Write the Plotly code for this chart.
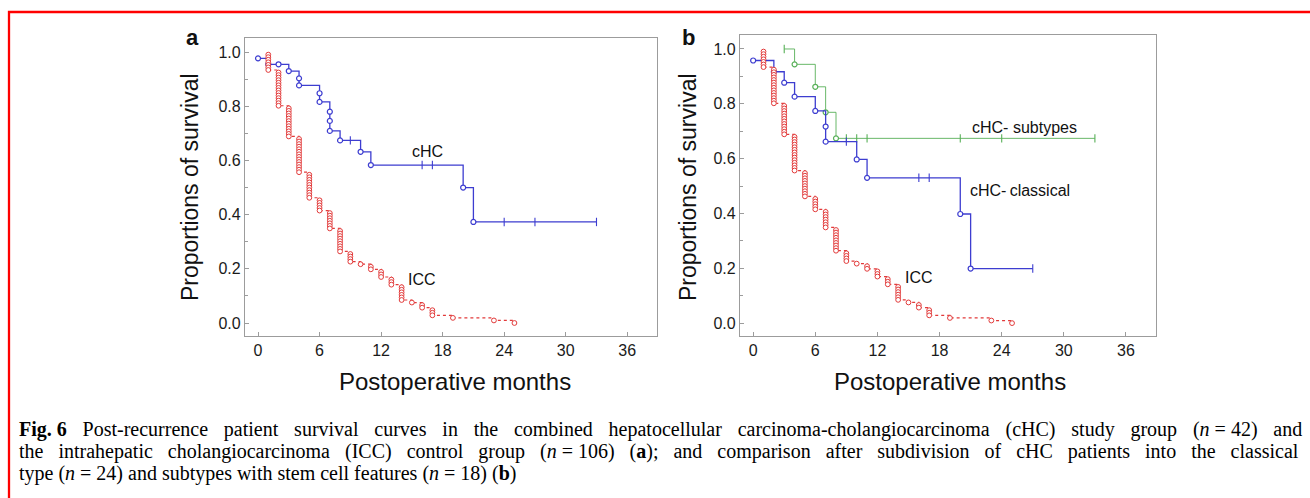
import numpy as np
import plotly.graph_objects as go

# ---------------- data ----------------
month_ticks = [0, 6, 12, 18, 24, 30, 36]
surv_ticks = [0.0, 0.2, 0.4, 0.6, 0.8, 1.0]

# Panel a - cHC (n = 42): event times / survival after each event
chc_a_t = [0, 1, 2, 3, 4, 4, 6, 6, 7, 7, 7, 8, 10, 11, 20, 21]
chc_a_s = [0.977, 0.955, 0.955, 0.930, 0.903, 0.877, 0.848, 0.816, 0.780,
           0.746, 0.709, 0.674, 0.632, 0.583, 0.500, 0.373]
chc_a_cens = [9, 16, 17, 24, 27, 33]

# ICC control group (n = 106): death counts per month (same curve in both panels)
icc_n = 106
icc_t = [1, 2, 3, 4, 5, 6, 7, 8, 9, 10, 11, 12, 13, 14, 15, 16, 17, 19, 23, 25]
icc_d = [7, 14, 12, 14, 10, 5, 7, 9, 4, 1, 2, 3, 3, 6, 1, 2, 3, 1, 1, 1]

# Panel b - cHC classical (n = 24)
cls_t = [0, 2, 3, 4, 6, 7, 7, 10, 11, 20, 21]
cls_s = [0.958, 0.917, 0.877, 0.826, 0.774, 0.717, 0.662, 0.597, 0.530, 0.398, 0.199]
cls_cens = [9, 16, 17, 27]

# Panel b - cHC subtypes (n = 18)
sub_start_t = 3
sub_start_s = 1.0
sub_t = [4, 6, 7, 8]
sub_s = [0.944, 0.862, 0.769, 0.674]
sub_cens = [3, 9, 10, 11, 20, 24, 33]

# ---------------- styles ----------------
BLUE = "#3d3dd0"
RED = "#e23a3a"
GREEN = "#58b058"
GRAY = "#9c9c9c"
SANS = "Liberation Sans, Arial, sans-serif"
SERIF = "Liberation Serif, Times New Roman, serif"


def level_at(times, surv, t, start_s=None):
    val = start_s
    for ti, si in zip(times, surv):
        if ti <= t:
            val = si
    return val


def step_line(times, surv, end_t, start=None):
    xs, ys = [], []
    if start is not None:
        xs.append(start[0]); ys.append(start[1])
    xs += list(times); ys += list(surv)
    xs.append(end_t); ys.append(ys[-1])
    return xs, ys


fig = go.Figure()


def add_curve(times, surv, cens, color, xa, ya, start=None, lw=1.3, msize=5):
    end_t = max(cens + list(times))
    xs, ys = step_line(times, surv, end_t, start)
    fig.add_trace(go.Scatter(x=xs, y=ys, mode="lines", line=dict(color=color, width=lw, shape="hv"),
                             xaxis=xa, yaxis=ya, hoverinfo="skip"))
    cy = [level_at(times, surv, c, start[1] if start else None) for c in cens]
    fig.add_trace(go.Scatter(x=cens, y=cy, mode="markers",
                             marker=dict(symbol="line-ns", size=6, line=dict(color=color, width=1.1)),
                             xaxis=xa, yaxis=ya, hoverinfo="skip"))
    fig.add_trace(go.Scatter(x=times, y=surv, mode="markers",
                             marker=dict(symbol="circle", size=msize, color="white",
                                         line=dict(color=color, width=1.2)),
                             xaxis=xa, yaxis=ya, hoverinfo="skip"))


def add_icc(xa, ya):
    cum = np.cumsum(icc_d)
    before = cum - np.array(icc_d)
    lvl_x, lvl_y = [], []
    for t, b, c in zip(icc_t, before, cum):
        for k in range(b + 1, c + 1):
            lvl_x.append(t)
            lvl_y.append(1 - k / icc_n)
    bottoms = [1 - c / icc_n for c in cum]
    fig.add_trace(go.Scatter(x=icc_t, y=bottoms, mode="lines",
                             line=dict(color=RED, width=1.2, dash="dot", shape="hv"),
                             xaxis=xa, yaxis=ya, hoverinfo="skip"))
    fig.add_trace(go.Scatter(x=lvl_x, y=lvl_y, mode="markers",
                             marker=dict(symbol="circle", size=4.8, color="white",
                                         line=dict(color=RED, width=1)),
                             xaxis=xa, yaxis=ya, hoverinfo="skip"))


# panel a
add_curve(chc_a_t, chc_a_s, chc_a_cens, BLUE, "x", "y")
add_icc("x", "y")
# panel b
add_curve(sub_t, sub_s, sub_cens, GREEN, "x2", "y2", start=(sub_start_t, sub_start_s), lw=0.9, msize=5)
add_curve(cls_t, cls_s, cls_cens, BLUE, "x2", "y2")
add_icc("x2", "y2")

W, H = 1310, 498


def px_x(x):
    return x / W


def px_y(y):
    return 1 - y / H


xaxis_common = dict(range=[-1.27, 38.9], tickvals=month_ticks, showline=True, linecolor=GRAY,
                    linewidth=1.2, mirror=True, ticks="inside", ticklen=4, tickcolor=GRAY,
                    showgrid=False, zeroline=False,
                    tickfont=dict(family=SANS, size=16, color="#1a1a1a"))
yaxis_common = dict(tickvals=surv_ticks, tickformat=".1f", showline=True, linecolor=GRAY,
                    linewidth=1.2, mirror=True, ticks="inside", ticklen=4, tickcolor=GRAY,
                    showgrid=False, zeroline=False,
                    minor=dict(dtick=0.1, tick0=0, ticks="inside", ticklen=3, tickcolor=GRAY),
                    tickfont=dict(family=SANS, size=16, color="#1a1a1a"))

fig.update_layout(
    width=W, height=H, margin=dict(l=0, r=0, t=0, b=0),
    paper_bgcolor="white", plot_bgcolor="white", showlegend=False,
    xaxis=dict(domain=[px_x(245), px_x(657)], anchor="y", **xaxis_common),
    yaxis=dict(domain=[px_y(336), px_y(38)], anchor="x", range=[-0.048, 1.052], **yaxis_common),
    xaxis2=dict(domain=[px_x(740), px_x(1156)], anchor="y2", **xaxis_common),
    yaxis2=dict(domain=[px_y(336), px_y(35)], anchor="x2", range=[-0.047, 1.051], **yaxis_common),
)

ann = []


def paper_text(x, y, text, size, family=SANS, angle=0, xanchor="center", color="#111"):
    ann.append(dict(xref="paper", yref="paper", x=px_x(x), y=px_y(y), text=text, showarrow=False,
                    textangle=angle, xanchor=xanchor, yanchor="middle",
                    font=dict(family=family, size=size, color=color)))


def data_text(xa, ya, x, y, text):
    ann.append(dict(xref=xa, yref=ya, x=x, y=y, text=text, showarrow=False,
                    xanchor="center", yanchor="middle",
                    font=dict(family=SANS, size=16, color="#111")))


paper_text(192, 37, "<b>a</b>", 22)
paper_text(688, 37, "<b>b</b>", 22)
paper_text(190, 187, "Proportions of survival", 23, angle=-90)
paper_text(688, 187, "Proportions of survival", 23, angle=-90)
paper_text(455, 381, "Postoperative months", 24)
paper_text(950, 381, "Postoperative months", 24)

data_text("x", "y", 16.5, 0.634, "cHC")
data_text("x", "y", 16.0, 0.161, "ICC")
data_text("x2", "y2", 26.2, 0.714, "cHC- subtypes")
data_text("x2", "y2", 25.8, 0.483, "cHC-\u2009classical")
data_text("x2", "y2", 16.0, 0.167, "ICC")


def stretch(txt, ws):
    # justified caption line: widen the word gaps
    return '<span style="word-spacing:%.1fpx">%s</span>' % (ws, txt)


WS1, WS2 = 10.8, 10.0
cap1 = ("<b>Fig. 6</b>"
        + stretch(" Post-recurrence patient survival curves in the combined hepatocellular "
                  "carcinoma-cholangiocarcinoma (cHC) study group ", WS1)
        + "(<i>n</i> = 42)" + stretch(" and", WS1))
cap2 = (stretch("the intrahepatic cholangiocarcinoma (ICC) control group ", WS2)
        + "(<i>n</i> = 106)"
        + stretch(" (<b>a</b>); and comparison after subdivision of cHC patients into the classical", WS2))
cap3 = "type (<i>n</i> = 24) and subtypes with stem cell features (<i>n</i> = 18) (<b>b</b>)"
CAP = 20

paper_text(17, 429, cap1, CAP, family=SERIF, xanchor="left", color="#000")
paper_text(17, 451, cap2, CAP, family=SERIF, xanchor="left", color="#000")
paper_text(17, 473, cap3, CAP, family=SERIF, xanchor="left", color="#000")

fig.update_layout(annotations=ann)

fig.add_shape(type="rect", xref="paper", yref="paper", x0=px_x(9), x1=1.2, y0=-0.2, y1=px_y(12),
              line=dict(color="#ff0000", width=2.3), fillcolor="rgba(0,0,0,0)")

fig.write_html("out.html")
